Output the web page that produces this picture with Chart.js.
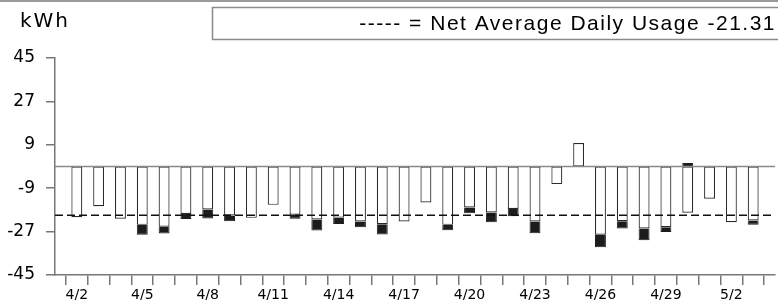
<!DOCTYPE html>
<html>
<head>
<meta charset="utf-8">
<script src="https://cdn.jsdelivr.net/npm/chart.js@4"></script>
<style>
  html, body { margin: 0; padding: 0; background: #fff; }
  #wrap { width: 778px; height: 300px; }
</style>
</head>
<body>
<div id="wrap"><canvas id="usageChart" width="778" height="300"></canvas></div>
<script>
// Daily net usage (kWh), 4/1 - 5/4
const days = ['4/1', '4/2', '4/3', '4/4', '4/5', '4/6', '4/7', '4/8', '4/9', '4/10',
  '4/11', '4/12', '4/13', '4/14', '4/15', '4/16', '4/17', '4/18', '4/19', '4/20',
  '4/21', '4/22', '4/23', '4/24', '4/25', '4/26', '4/27', '4/28', '4/29', '4/30',
  '5/1', '5/2', '5/3', '5/4'];

// white part of each bar
const usageWhite = [null, -21.0, -16.5, -21.7, -24.2, -25.0, -19.7, -17.8, -20.3, -21.3,
  -15.9, -20.0, -22.0, -21.2, -22.8, -23.9, -22.8, -14.9, -24.2, -17.0,
  -19.1, -17.6, -22.8, -7.3, 9.7, -28.3, -22.7, -25.7, -25.2, -19.2,
  -13.4, -23.1, -22.4, null];

// black part stacked on the white one
const usageBlack = [null, 0, 0, 0, -4.1, -2.8, -2.1, -3.8, -2.4, 0,
  0, -1.7, -4.5, -2.6, -2.4, -4.3, 0, 0, -2.2, -2.4,
  -4.0, -3.0, -4.9, 0, 0, -5.2, -3.0, -4.9, -2.0, 1.4,
  0, 0, -1.8, null];

const yTicks = [-45, -27, -9, 9, 27, 45];
const avgLabel = '-21.31';
const avgLinePos = -20.2; // where the dashed line sits in the picture

Chart.defaults.font.family = 'DejaVu Sans';
Chart.defaults.color = '#000';

// kWh label, legend box and top rule
const decorations = {
  id: 'decorations',
  afterDraw(chart) {
    const ctx = chart.ctx;
    ctx.save();
    ctx.strokeStyle = '#9a9a9a';
    ctx.lineWidth = 2;
    ctx.beginPath();
    ctx.moveTo(0, 1);
    ctx.lineTo(778, 1);
    ctx.stroke();

    ctx.strokeStyle = '#8a8a8a';
    ctx.lineWidth = 1.5;
    ctx.strokeRect(212.5, 7.5, 600, 32);

    ctx.fillStyle = '#000';
    ctx.textBaseline = 'middle';
    ctx.font = '20px "DejaVu Sans"';
    ctx.textAlign = 'left';
    ctx.letterSpacing = '2px';
    ctx.fillText('kWh', 20, 22);
    ctx.letterSpacing = '0px';

    ctx.font = '21px "Liberation Sans"';
    ctx.textAlign = 'right';
    ctx.letterSpacing = '1.5px';
    ctx.fillText('----- = Net Average Daily Usage ' + avgLabel, 776, 24);
    ctx.restore();
  }
};

new Chart(document.getElementById('usageChart'), {
  type: 'bar',
  data: {
    labels: days,
    datasets: [
      {
        type: 'line',
        data: days.map(() => 0),
        borderColor: '#8a8a8a',
        borderWidth: 1.5,
        pointRadius: 0,
        stack: 'zero',
        order: 1,
      },
      {
        type: 'line',
        data: days.map(() => avgLinePos),
        borderColor: '#111',
        borderWidth: 1.5,
        borderDash: [8, 4],
        pointRadius: 0,
        stack: 'avg',
        order: 0,
      },
      {
        data: usageWhite,
        backgroundColor: '#fff',
        borderColor: '#2a2a2a',
        borderWidth: 1.2,
        borderSkipped: false,
        stack: 'usage',
        order: 2,
      },
      {
        data: usageBlack,
        backgroundColor: '#1c1c1c',
        borderColor: '#1c1c1c',
        borderWidth: 1,
        stack: 'usage',
        order: 2,
      },
    ],
  },
  options: {
    responsive: false,
    animation: false,
    events: [],
    barPercentage: 0.5,
    categoryPercentage: 1,
    layout: {
      padding: { top: 58, right: 3, left: 0, bottom: 0 },
    },
    plugins: {
      legend: { display: false },
      title: { display: false },
      tooltip: { enabled: false },
    },
    scales: {
      x: {
        stacked: true,
        offset: false,
        afterFit: (scale) => { scale.height = 25; },
        border: { color: '#777', width: 1.5 },
        grid: {
          drawOnChartArea: false,
          tickLength: 10,
          color: '#777',
          lineWidth: 1.5,
        },
        ticks: {
          autoSkip: false,
          maxRotation: 0,
          padding: 2,
          font: { size: 14 },
          callback: function (value, index) {
            return index % 3 === 1 ? days[index] : '';
          },
        },
      },
      y: {
        stacked: true,
        min: -45,
        max: 45,
        afterFit: (scale) => { scale.width = 55; },
        afterBuildTicks: (scale) => {
          scale.ticks = yTicks.map((v) => ({ value: v }));
        },
        border: { color: '#777', width: 1.5 },
        grid: {
          drawOnChartArea: false,
          tickLength: 9,
          color: '#777',
          lineWidth: 1.5,
        },
        ticks: {
          padding: 11,
          font: { size: 17 },
        },
      },
    },
  },
  plugins: [decorations],
});
</script>
</body>
</html>
